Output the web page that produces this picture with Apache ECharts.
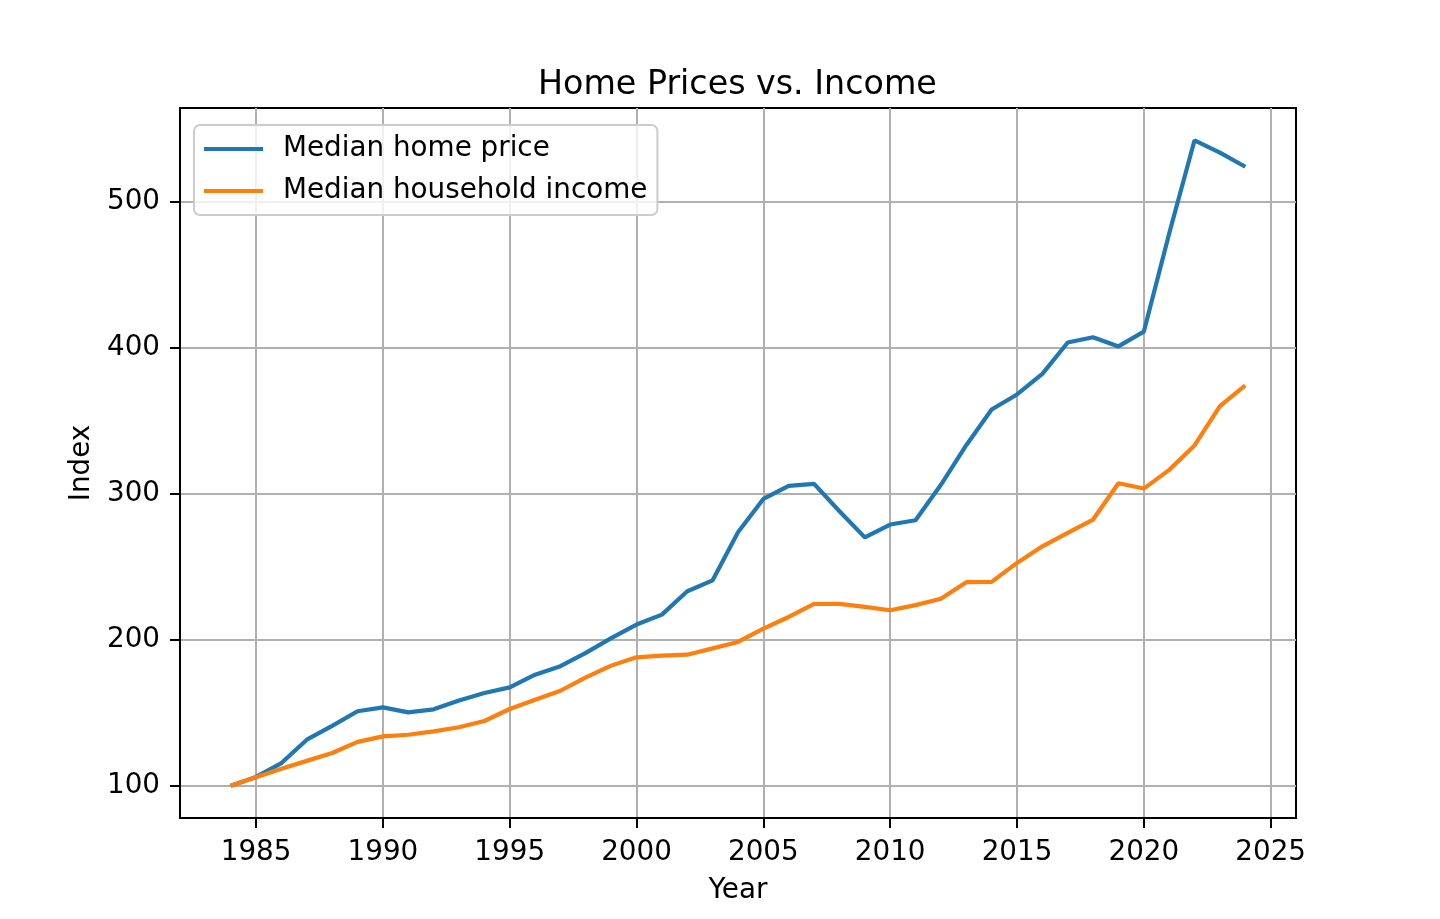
<!DOCTYPE html>
<html>
<head>
<meta charset="utf-8">
<title>Home Prices vs. Income</title>
<script src="https://cdn.jsdelivr.net/npm/echarts@6/dist/echarts.min.js"></script>
<style>
  html, body { margin: 0; padding: 0; background: #fff; }
  #main { width: 1440px; height: 919px; }
</style>
</head>
<body>
<div id="main"></div>
<script>
// years on the x axis
var years = [1984, 1985, 1986, 1987, 1988, 1989, 1990, 1991, 1992, 1993,
  1994, 1995, 1996, 1997, 1998, 1999, 2000, 2001, 2002, 2003,
  2004, 2005, 2006, 2007, 2008, 2009, 2010, 2011, 2012, 2013,
  2014, 2015, 2016, 2017, 2018, 2019, 2020, 2021, 2022, 2023, 2024];

// median home price index (1984 = 100)
var home_price = [100, 106, 115.5, 131.5, 141, 151, 153.6, 150.2, 152.3, 158.4,
  163.5, 167.3, 176, 181.8, 190.9, 201, 210.3, 217.1, 233.1, 240.6,
  273.5, 296.3, 305.3, 306.6, 287.9, 270, 278.8, 281.7, 306, 333.1,
  357.5, 367.8, 381.9, 403.4, 407, 400.7, 410.8, 478, 541.8, 533.3, 523.7];

// median household income index (1984 = 100)
var household_income = [100, 105.8, 111.6, 117, 122.4, 130, 133.8, 134.9, 137.2, 140,
  144.3, 152.5, 158.9, 165, 174.2, 182.2, 187.9, 189, 189.7, 194,
  198.4, 207.5, 215.5, 224.4, 224.5, 222.4, 220.1, 223.6, 228, 239.3,
  239.5, 252.5, 263.9, 273.1, 282.2, 307, 303.4, 316.2, 332.9, 359.8, 374];

// tick labels
var x_ticks = [1985, 1990, 1995, 2000, 2005, 2010, 2015, 2020, 2025];
var y_ticks = [100, 200, 300, 400, 500];

var series_names = ["Median home price", "Median household income"];

function pairs(vals) {
  var out = [];
  for (var i = 0; i < years.length; i++) {
    out.push([years[i], vals[i]]);
  }
  return out;
}

var font = "DejaVu Sans";
var myChart = echarts.init(document.getElementById("main"), null, { renderer: "canvas" });

var option = {
  backgroundColor: "#ffffff",
  animation: false,
  title: {
    text: "Home Prices vs. Income",
    left: 533,
    top: 64,
    textStyle: { fontFamily: font, fontSize: 33.3, fontWeight: "normal", color: "#000" }
  },
  legend: {
    left: 194,
    top: 125,
    orient: "vertical",
    padding: [10, 10, 10, 10],
    itemGap: 14,
    itemWidth: 59,
    itemHeight: 28,
    // plain line handle like matplotlib
    icon: "path://M0,0 L59,0 L59,4 L0,4 Z",
    symbolKeepAspect: true,
    backgroundColor: "rgba(255,255,255,0.8)",
    borderColor: "#cccccc",
    borderWidth: 2,
    borderRadius: 6,
    textStyle: { fontFamily: font, fontSize: 27.8, color: "#000", padding: [0, 0, 0, 15] },
    data: series_names
  },
  grid: {
    left: 180,
    right: 144,
    top: 108,
    bottom: 101,
    show: true,
    borderColor: "#000",
    borderWidth: 2,
    containLabel: false
  },
  xAxis: {
    type: "value",
    min: 1982,
    max: 2026,
    name: "Year",
    nameLocation: "middle",
    nameGap: 59,
    nameTextStyle: { fontFamily: font, fontSize: 27.8, color: "#000" },
    axisLine: { show: true, onZero: false, lineStyle: { color: "#000", width: 2 } },
    axisTick: { show: true, customValues: x_ticks, length: 10, lineStyle: { color: "#000", width: 2 } },
    axisLabel: {
      customValues: x_ticks,
      margin: 21,
      fontFamily: font, fontSize: 27.8, color: "#000",
      formatter: function (v) { return String(v); }
    },
    splitLine: { show: true, lineStyle: { color: "#b0b0b0", width: 2 } }
  },
  yAxis: {
    type: "value",
    min: 77.9,
    max: 563.9,
    name: "Index",
    nameLocation: "middle",
    nameGap: 81,
    nameTextStyle: { fontFamily: font, fontSize: 27.8, color: "#000" },
    axisLine: { show: true, onZero: false, lineStyle: { color: "#000", width: 2 } },
    axisTick: { show: true, customValues: y_ticks, length: 10, lineStyle: { color: "#000", width: 2 } },
    axisLabel: {
      customValues: y_ticks,
      margin: 20,
      fontFamily: font, fontSize: 27.8, color: "#000"
    },
    splitLine: { show: true, lineStyle: { color: "#b0b0b0", width: 2 } }
  },
  series: [
    {
      name: series_names[0],
      type: "line",
      data: pairs(home_price),
      symbol: "none",
      color: "#1f77b4",
      lineStyle: { color: "#1f77b4", width: 4.2 },
      z: 3
    },
    {
      name: series_names[1],
      type: "line",
      data: pairs(household_income),
      symbol: "none",
      color: "#ff7f0e",
      lineStyle: { color: "#ff7f0e", width: 4.2 },
      z: 4
    }
  ]
};

myChart.setOption(option);
</script>
</body>
</html>
